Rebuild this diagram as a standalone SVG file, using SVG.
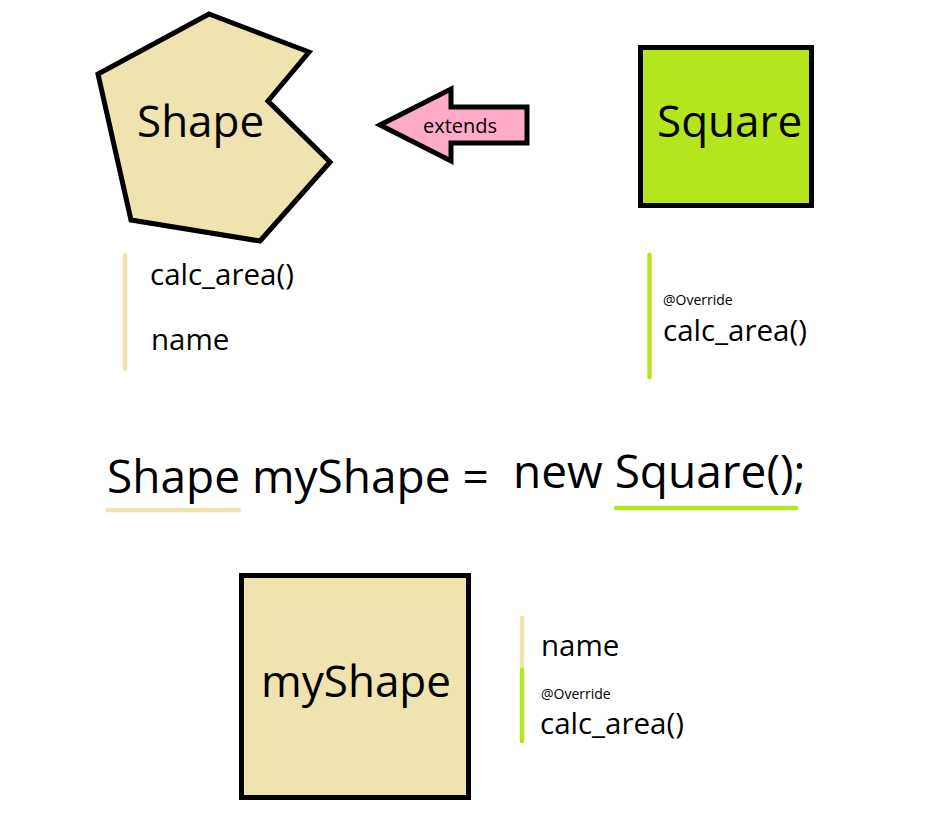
<svg xmlns="http://www.w3.org/2000/svg" width="925" height="821" viewBox="0 0 925 821">
<style>
text{font-family:"Open Sans","Noto Sans","DejaVu Sans",sans-serif;fill:#000}
.big{font-size:44px}
.mem{font-size:29.5px}
.ovr{font-size:14px}
.code{font-size:46px}
.beige{fill:#EFE3B0}
.lime{fill:#B5E61D}
.outline{stroke:#000;stroke-width:5;stroke-linejoin:miter}
.bar{stroke-width:4.5;stroke-linecap:round;fill:none}
.barB{stroke:#EFE3B0}
.barG{stroke:#B5E61D}
</style>
<rect width="925" height="821" fill="#fff"/>
<g id="shape">
<polygon class="beige outline" points="209,14 309,52 268,101 330,162 260,241 131,220 98,74"/>
<text class="big" x="137" y="137">Shape</text>
</g>
<g id="square">
<rect class="lime outline" x="640.5" y="47.5" width="171" height="158"/>
<text class="big" x="657" y="137">Square</text>
</g>
<g id="connectors">
<polygon points="380,125 451,89 451,107 527,107 527,143 451,143 451,161" fill="#FFAAC9" stroke="#000" stroke-width="5" stroke-linejoin="miter"/>
<text x="460" y="133" font-size="20" text-anchor="middle">extends</text>
</g>
<g id="shape-members">
<line class="bar barB" x1="125" y1="255" x2="125" y2="369"/>
<text class="mem" x="150" y="285">calc_area()</text>
<text class="mem" x="151" y="350">name</text>
</g>
<g id="square-members">
<line class="bar barG" x1="649.5" y1="255" x2="649.5" y2="377"/>
<text class="ovr" x="663" y="305">@Override</text>
<text class="mem" x="663" y="341">calc_area()</text>
</g>
<g id="code">
<text class="code" x="107" y="493">Shape myShape =</text>
<text class="code" x="513" y="488">new Square();</text>
<line class="bar barB" x1="108" y1="510" x2="239" y2="510" stroke-width="5"/>
<line class="bar barG" x1="616" y1="508" x2="796" y2="508" stroke-width="5"/>
</g>
<g id="myShape">
<rect class="beige outline" x="241.5" y="575.5" width="227" height="222"/>
<text class="big" x="261" y="697">myShape</text>
</g>
<g id="myShape-members">
<line x1="522" y1="618" x2="522" y2="670" stroke="#EFE3B0" stroke-width="4.5" stroke-linecap="round"/>
<line x1="522" y1="670" x2="522" y2="741" stroke="#B5E61D" stroke-width="4.5" stroke-linecap="round"/>
<text class="mem" x="541" y="656">name</text>
<text class="ovr" x="541" y="699">@Override</text>
<text class="mem" x="540" y="734">calc_area()</text>
</g>
</svg>
